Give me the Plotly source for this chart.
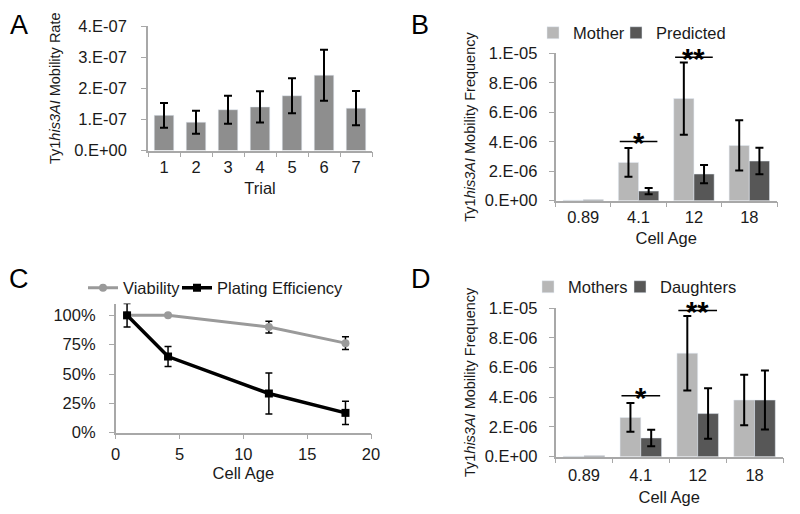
import plotly.graph_objects as go

# Panel A: mobility rate per trial
trials = ["1", "2", "3", "4", "5", "6", "7"]
rate_mean = [1.13e-7, 0.91e-7, 1.31e-7, 1.40e-7, 1.76e-7, 2.42e-7, 1.36e-7]
rate_err = [0.40e-7, 0.37e-7, 0.45e-7, 0.50e-7, 0.56e-7, 0.82e-7, 0.55e-7]
rate_ticks = [0, 1e-7, 2e-7, 3e-7, 4e-7]
rate_ticktext = ["0.E+00", "1.E-07", "2.E-07", "3.E-07", "4.E-07"]

# Panels B and D: mobility frequency by cell age
age_cats = ["0.89", "4.1", "12", "18"]
mother_b = [0.04e-6, 2.60e-6, 6.93e-6, 3.75e-6]
mother_b_err = [None, 0.98e-6, 2.45e-6, 1.70e-6]
predicted = [0.06e-6, 0.65e-6, 1.81e-6, 2.69e-6]
predicted_err = [None, 0.22e-6, 0.62e-6, 0.90e-6]

mothers_d = [0.04e-6, 2.64e-6, 6.96e-6, 3.81e-6]
mothers_d_err = [None, 0.97e-6, 2.50e-6, 1.70e-6]
daughters = [0.06e-6, 1.26e-6, 2.90e-6, 3.81e-6]
daughters_err = [None, 0.55e-6, 1.70e-6, 1.98e-6]

freq_ticks = [0, 2e-6, 4e-6, 6e-6, 8e-6, 1e-5]
freq_ticktext = ["0.E+00", "2.E-06", "4.E-06", "6.E-06", "8.E-06", "1.E-05"]

# significance marks: category, bar height, label
sig_b = [("4.1", 4.02e-6, "*"), ("12", 9.73e-6, "**")]
sig_d = [("4.1", 4.10e-6, "*"), ("12", 9.84e-6, "**")]

# Panel C: viability and plating efficiency
ages_num = [0.89, 4.1, 12, 18]
viability = [1.00, 1.00, 0.90, 0.763]
viability_err = [0, 0, 0.05, 0.055]
plating = [1.00, 0.649, 0.334, 0.169]
plating_err = [0.10, 0.085, 0.175, 0.10]
pct_ticks = [0, 0.25, 0.5, 0.75, 1.0]

LIGHT = "#b7b7b7"
DARK = "#575757"
MID = "#8e8e8e"
AXIS = "#a8a8a8"
TEXT = "#1a1a1a"
FONT = "Arial, Liberation Sans, sans-serif"

W, H = 800, 514
PAGE = 8  # default body margin of the html page


def px(x):
    return (x - PAGE) / W


def py(y):
    return 1 - (y - PAGE) / H


def err(arr, thick=2, width=4):
    return dict(type="data", array=arr, color="black", thickness=thick, width=width, visible=True)


def bar(cats, vals, errs, **kw):
    # points without an error value go last, past the end of the error array,
    # so plotly draws no cap for them
    order = [i for i, e in enumerate(errs) if e is not None] + \
            [i for i, e in enumerate(errs) if e is None]
    return go.Bar(
        x=[cats[i] for i in order],
        y=[vals[i] for i in order],
        error_y=err([errs[i] for i in order if errs[i] is not None]),
        **kw,
    )


fig = go.Figure()

fig.add_trace(go.Bar(
    x=trials, y=rate_mean, error_y=err(rate_err), marker_color=MID,
    width=0.61, showlegend=False, xaxis="x", yaxis="y",
))

fig.add_trace(bar(age_cats, mother_b, mother_b_err, marker_color=LIGHT,
                  name="Mother", xaxis="x2", yaxis="y2", legend="legend"))
fig.add_trace(bar(age_cats, predicted, predicted_err, marker_color=DARK,
                  name="Predicted", xaxis="x2", yaxis="y2", legend="legend2"))

fig.add_trace(go.Scatter(
    x=ages_num, y=viability, error_y=err(viability_err, 1.5, 3.5),
    mode="lines+markers", name="Viability",
    line=dict(color="#9a9a9a", width=3), marker=dict(symbol="circle", size=8, color="#9a9a9a"),
    xaxis="x3", yaxis="y3", legend="legend3", cliponaxis=False,
))
fig.add_trace(go.Scatter(
    x=ages_num, y=plating, error_y=err(plating_err, 1.5, 3.5),
    mode="lines+markers", name="Plating Efficiency",
    line=dict(color="black", width=3.5), marker=dict(symbol="square", size=8, color="black"),
    xaxis="x3", yaxis="y3", legend="legend4", cliponaxis=False,
))

fig.add_trace(bar(age_cats, mothers_d, mothers_d_err, marker_color=LIGHT,
                  name="Mothers", xaxis="x4", yaxis="y4", legend="legend5"))
fig.add_trace(bar(age_cats, daughters, daughters_err, marker_color=DARK,
                  name="Daughters", xaxis="x4", yaxis="y4", legend="legend6"))

# significance lines + stars
for axn, marks in (("2", sig_b), ("4", sig_d)):
    for cat, h, label in marks:
        i = age_cats.index(cat)
        fig.add_shape(type="line", xref="x" + axn, yref="y" + axn,
                      x0=i - 0.34, x1=i + 0.34, y0=h, y1=h,
                      line=dict(color="black", width=1.5))
        fig.add_annotation(x=i, y=h, xref="x" + axn, yref="y" + axn, text="<b>" + label + "</b>",
                           showarrow=False, yanchor="middle", yshift=-2,
                           font=dict(size=29, color="black", family=FONT))

# panel letters, anchored by their top edge
for letter, lx, ly in (("A", 19, 8), ("B", 420, 8), ("C", 19, 262), ("D", 421, 262)):
    fig.add_annotation(x=px(lx), y=py(ly), xref="paper", yref="paper", text=letter,
                       showarrow=False, xanchor="center", yanchor="top",
                       font=dict(size=27, color="black", family=FONT))

base = dict(showline=True, linecolor=AXIS, linewidth=1.5, ticks="outside", ticklen=5,
            tickcolor=AXIS, tickwidth=1.2, showgrid=False, zeroline=False,
            tickfont=dict(size=16.5, color=TEXT), fixedrange=True)
ytitle = "Ty1<i>his3AI</i> Mobility "


def leg(x, y):
    return dict(x=px(x), y=py(y), xanchor="left", yanchor="middle", orientation="h",
                font=dict(size=16.5), bgcolor="rgba(0,0,0,0)")


fig.update_layout(
    width=W, height=H,
    margin=dict(l=0, r=0, t=0, b=0, autoexpand=False),
    paper_bgcolor="white", plot_bgcolor="white",
    font=dict(family=FONT, color=TEXT, size=16),
    barmode="group", bargap=0.27, bargroupgap=0,
    xaxis=dict(base, domain=[px(148), px(372)], type="category", tickson="boundaries",
               ticklabelstandoff=1, anchor="y",
               title=dict(text="Trial", font=dict(size=16.5), standoff=7)),
    yaxis=dict(base, domain=[py(150.5), py(26)], range=[0, 4e-7],
               tickvals=rate_ticks, ticktext=rate_ticktext, ticklabelstandoff=11, anchor="x",
               title=dict(text=ytitle + "Rate", font=dict(size=14.5), standoff=10)),
    xaxis2=dict(base, domain=[px(555.5), px(777)], type="category", tickson="boundaries",
                categoryorder="array", categoryarray=age_cats,
                ticklabelstandoff=1, anchor="y2",
                title=dict(text="Cell Age", font=dict(size=16.5), standoff=7)),
    yaxis2=dict(base, domain=[py(200.7), py(53.3)], range=[0, 1e-5],
                tickvals=freq_ticks, ticktext=freq_ticktext, ticklabelstandoff=8, anchor="x2",
                title=dict(text=ytitle + "Frequency", font=dict(size=14.5), standoff=6)),
    xaxis3=dict(base, domain=[px(115.7), px(371)], range=[0, 20], dtick=5,
                ticklabelstandoff=1, anchor="y3",
                title=dict(text="Cell Age", font=dict(size=16.5), standoff=5)),
    yaxis3=dict(base, domain=[py(432.7), py(303.6)], range=[0, 1.1],
                tickvals=pct_ticks, tickformat=".0%", ticklabelstandoff=10, anchor="x3"),
    xaxis4=dict(base, domain=[px(555.5), px(783)], type="category", tickson="boundaries",
                categoryorder="array", categoryarray=age_cats,
                ticklabelstandoff=3, anchor="y4",
                title=dict(text="Cell Age", font=dict(size=16.5), standoff=8)),
    yaxis4=dict(base, domain=[py(456.7), py(308)], range=[0, 1e-5],
                tickvals=freq_ticks, ticktext=freq_ticktext, ticklabelstandoff=8, anchor="x4",
                title=dict(text=ytitle + "Frequency", font=dict(size=14.5), standoff=6)),
    legend=leg(533, 33),
    legend2=leg(616, 33),
    legend3=leg(83, 288),
    legend4=leg(177, 288),
    legend5=leg(528, 287),
    legend6=leg(620, 287),
)

fig.write_html("out.html")
